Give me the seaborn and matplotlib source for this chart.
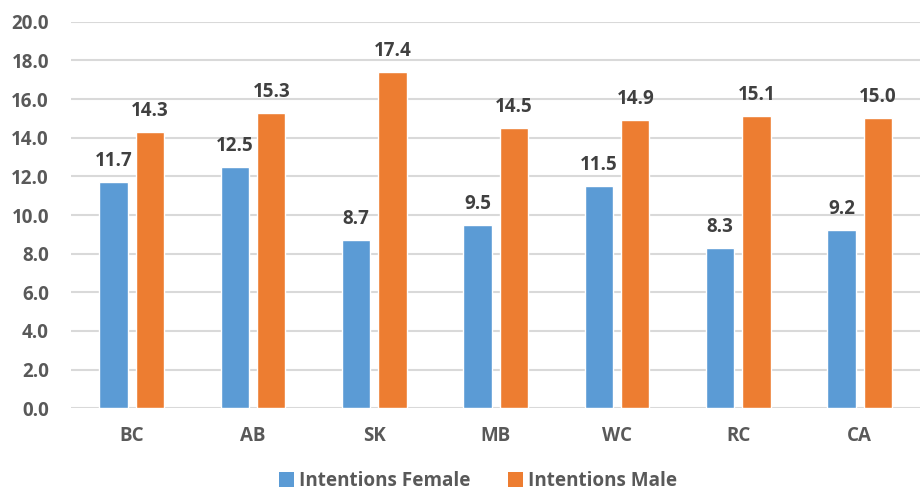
import matplotlib
matplotlib.use("Agg")
import matplotlib.pyplot as plt
import seaborn as sns
import pandas as pd
from matplotlib.patches import Patch
from matplotlib.ticker import FormatStrFormatter

regions = ["BC", "AB", "SK", "MB", "WC", "RC", "CA"]
female = [11.7, 12.5, 8.7, 9.5, 11.5, 8.3, 9.2]
male = [14.3, 15.3, 17.4, 14.5, 14.9, 15.1, 15.0]
series = ["Intentions Female", "Intentions Male"]
colors = ["#5B9BD5", "#ED7D31"]
yticks = [0, 2, 4, 6, 8, 10, 12, 14, 16, 18, 20]

df = pd.DataFrame({
    "region": regions * 2,
    "value": female + male,
    "series": [series[0]] * len(regions) + [series[1]] * len(regions),
})

sns.set_theme(style="white")
plt.rcParams["font.family"] = ["Open Sans", "DejaVu Sans"]
plt.rcParams["font.weight"] = "bold"

fig = plt.figure(figsize=(9.24, 4.96), dpi=100)
ax = fig.add_axes([0.077, 0.177, 0.919, 0.779])

sns.barplot(data=df, x="region", y="value", hue="series", palette=colors,
            width=0.6, gap=0.22, order=regions, hue_order=series,
            saturation=1, ax=ax, legend=False, zorder=3)

for cont in ax.containers:
    ax.bar_label(cont, fmt="%.1f", padding=8, fontsize=13.5, fontweight="bold",
                 color="#404040")

ax.set_ylim(0, 20)
ax.set_yticks(yticks)
ax.yaxis.set_major_formatter(FormatStrFormatter("%.1f"))
ax.set_xlim(-0.5, len(regions) - 0.5)
ax.grid(axis="y", color="#D9D9D9", linewidth=1.5, zorder=0)
ax.set_axisbelow(True)
for s in ax.spines.values():
    s.set_visible(False)
ax.set_xlabel("")
ax.set_ylabel("")
ax.tick_params(axis="both", length=0, labelsize=13.5, labelcolor="#595959")
ax.tick_params(axis="y", pad=16)
ax.tick_params(axis="x", pad=13)
for lbl in ax.get_xticklabels() + ax.get_yticklabels():
    lbl.set_fontweight("bold")

handles = [Patch(facecolor=c, edgecolor="none") for c in colors]
fig.legend(handles, series, loc="center", bbox_to_anchor=(0.517, 0.03),
           ncol=2, frameon=False, handlelength=0.8, handleheight=0.8,
           handletextpad=0.25, columnspacing=2.0,
           prop={"size": 13.6, "weight": "bold"}, labelcolor="#595959")

fig.savefig("out.png", dpi=100)
